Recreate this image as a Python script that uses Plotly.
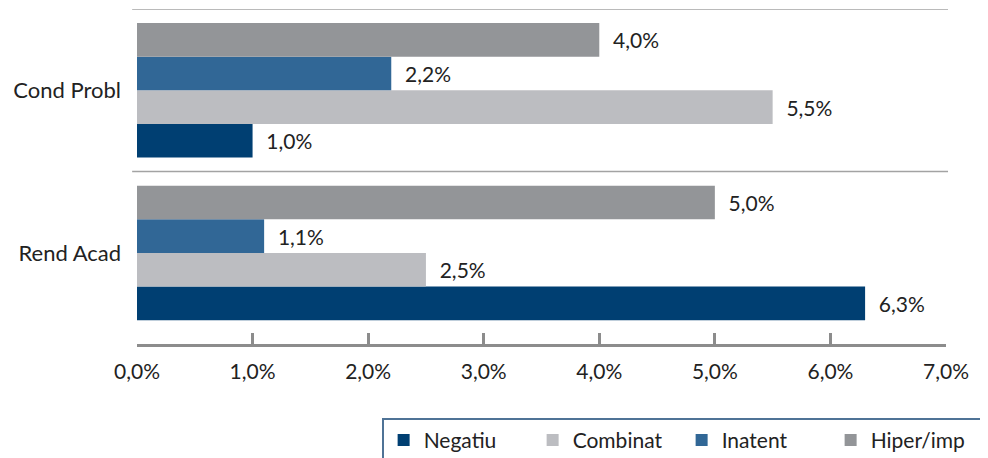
import plotly.graph_objects as go

categories = ["Rend Acad", "Cond Probl"]
series_names = ["Negatiu", "Combinat", "Inatent", "Hiper/imp"]
negatiu = [6.3, 1.0]
combinat = [2.5, 5.5]
inatent = [1.1, 2.2]
hiper = [5.0, 4.0]
colors = ["#003f72", "#bcbdc1", "#316796", "#939598"]
tick_vals = [0, 1, 2, 3, 4, 5, 6, 7]
tick_labels = ["0,0%", "1,0%", "2,0%", "3,0%", "4,0%", "5,0%", "6,0%", "7,0%"]

values = [negatiu, combinat, inatent, hiper]
FONT = "Lato, 'Open Sans', sans-serif"

fig = go.Figure()
for name, vals, col in zip(series_names, values, colors):
    fig.add_trace(go.Bar(
        y=categories, x=vals, name=name, orientation="h",
        marker=dict(color=col, line=dict(width=0)),
        texttemplate="\u00a0\u00a0%{x:.1f}%", textposition="outside",
        textfont=dict(size=21, color="#222222", family=FONT),
        cliponaxis=False,
    ))

for yv in [0.5, 1.5]:
    fig.add_shape(type="line", xref="paper", yref="y", x0=-0.006, x1=1.0025,
                  y0=yv, y1=yv, line=dict(color="#a3a3a3", width=1.5))

# page body has an 8px margin, so the figure is drawn 8px in from the top-left
fig.update_layout(
    width=980, height=450,
    margin=dict(l=129, r=42, t=1, b=114, autoexpand=False),
    paper_bgcolor="white", plot_bgcolor="white",
    barmode="group", bargap=0.173, bargroupgap=0,
    separators=", ",
    font=dict(family=FONT, size=21, color="#222222"),
    showlegend=True,
    legend=dict(orientation="h", x=0.303, xanchor="left", y=-0.222, yanchor="top",
                bordercolor="#4f7396", borderwidth=1.5,
                entrywidth=104, entrywidthmode="pixels",
                font=dict(size=21, color="#222222"), traceorder="normal"),
    xaxis=dict(range=[0, 7], tickmode="array", tickvals=tick_vals, ticktext=tick_labels,
               showgrid=False, zeroline=False, showline=True, linecolor="#8c8c8c",
               linewidth=3, ticks="inside", ticklen=11, tickwidth=3, tickcolor="#8c8c8c",
               ticklabelstandoff=7, tickfont=dict(size=21), automargin=False),
    yaxis=dict(type="category", categoryorder="array", categoryarray=categories,
               range=[-0.56, 1.5], showgrid=False, zeroline=False, showline=False,
               ticks="", ticklabelstandoff=15, tickfont=dict(size=22), automargin=False),
)

fig.write_html("out.html")
